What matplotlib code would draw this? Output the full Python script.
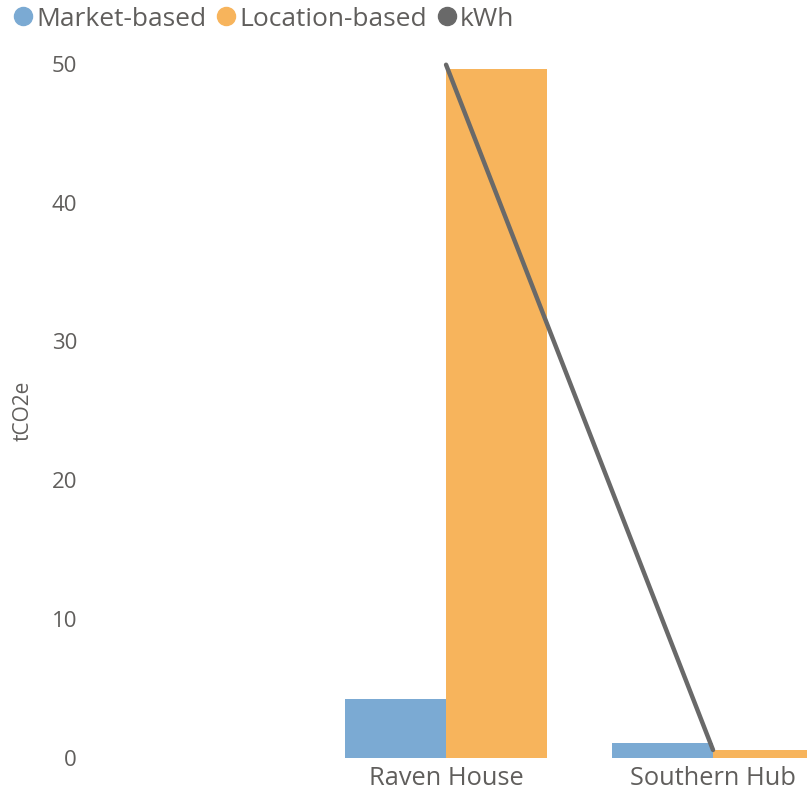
import matplotlib
matplotlib.use('Agg')

import matplotlib.pyplot as plt
from matplotlib.lines import Line2D

# emissions per site (tCO2e) and metered electricity (kWh)
sites = ["Raven House", "Southern Hub"]
market_based = [4.25, 1.1]
location_based = [49.6, 0.58]
kwh = [187240, 2170]
y_ticks = [0, 10, 20, 30, 40, 50]

blue = "#7BAAD3"
orange = "#F7B45C"
grey_line = "#696969"
text_grey = "#605E5C"

plt.rcParams['font.family'] = ['Open Sans', 'DejaVu Sans']

fig = plt.figure(figsize=(8.07, 7.96), dpi=100)
ax = fig.add_axes([95 / 807, 38 / 796, 1 - 95 / 807, (758 - 36) / 796])

pos = [1, 2]
bw = 0.378
ax.bar([p - bw / 2 for p in pos], market_based, width=bw, color=blue, zorder=2)
ax.bar([p + bw / 2 for p in pos], location_based, width=bw, color=orange, zorder=2)

ax.set_xlim(-0.315, 2.352)
ax.set_ylim(0, 52)
ax.set_yticks(y_ticks)
ax.set_xticks(pos)
ax.set_xticklabels(sites)
ax.tick_params(axis='y', length=0, pad=13, labelsize=16, labelcolor=text_grey)
ax.tick_params(axis='x', length=0, pad=6, labelsize=18.3, labelcolor=text_grey)
for s in ax.spines.values():
    s.set_visible(False)

# kWh on a hidden secondary axis
ax2 = ax.twinx()
ax2.plot(pos, kwh, color=grey_line, linewidth=3.2, solid_capstyle='round', zorder=3)
ax2.set_ylim(0, 52 * 3750)
ax2.set_axis_off()

fig.text(23 / 807, 1 - 411 / 796, "tCO2e", rotation=90, ha='center', va='center',
         fontsize=15, color=text_grey)

handles = [
    Line2D([], [], marker='o', linestyle='none', markersize=13, color=blue, label="Market-based"),
    Line2D([], [], marker='o', linestyle='none', markersize=13, color=orange, label="Location-based"),
    Line2D([], [], marker='o', linestyle='none', markersize=13, color=grey_line, label="kWh"),
]
fig.legend(handles=handles, loc='center left', bbox_to_anchor=(14 / 807, 1 - 19 / 796), ncol=3,
           frameon=False, fontsize=19, handlelength=0.7, handletextpad=0.15,
           columnspacing=0.4, labelcolor=text_grey, borderaxespad=0, borderpad=0)

fig.savefig("out.png", dpi=100)
